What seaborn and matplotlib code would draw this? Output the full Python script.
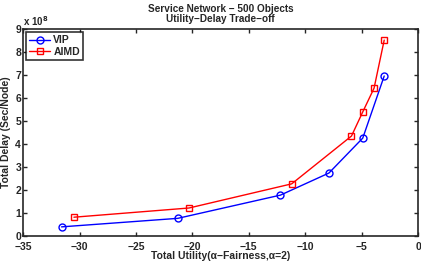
import numpy as np
import pandas as pd
import matplotlib
matplotlib.use("Agg")
import matplotlib.pyplot as plt
from matplotlib.ticker import FuncFormatter
import seaborn as sns

# values
vip_utility = [-31.6, -21.3, -12.2, -7.9, -4.9, -3.0]
vip_delay = [0.40e8, 0.77e8, 1.78e8, 2.74e8, 4.26e8, 6.96e8]
aimd_utility = [-30.5, -20.3, -11.2, -5.9, -4.9, -3.9, -3.0]
aimd_delay = [0.82e8, 1.22e8, 2.27e8, 4.35e8, 5.40e8, 6.43e8, 8.52e8]

df = pd.concat([
    pd.DataFrame({"utility": vip_utility, "delay": vip_delay, "scheme": "VIP"}),
    pd.DataFrame({"utility": aimd_utility, "delay": aimd_delay, "scheme": "AIMD"}),
])

sns.set_style("ticks")
plt.rcParams["font.family"] = ["Liberation Sans", "DejaVu Sans"]
plt.rcParams["font.weight"] = "bold"

fig = plt.figure(figsize=(4.21, 2.62), dpi=100)
ax = fig.add_axes([0.055, 0.099, 0.938, 0.79])

sns.lineplot(data=df, x="utility", y="delay", hue="scheme", style="scheme",
             palette={"VIP": "#0000ff", "AIMD": "#ff0000"},
             markers={"VIP": "o", "AIMD": "s"}, dashes=False, sort=False,
             markersize=5, markerfacecolor="none", markeredgewidth=1.0,
             linewidth=1.0, ax=ax)
for line in ax.lines:
    line.set_markeredgecolor(line.get_color())
    line.set_markerfacecolor("none")

ax.set_xlim(-35, 0)
ax.set_ylim(0, 9e8)
ax.set_xticks(np.arange(-35, 1, 5))
ax.set_yticks(np.arange(0, 9.1e8, 1e8))
ax.yaxis.set_major_formatter(FuncFormatter(lambda v, p: f"{v / 1e8:g}"))
ax.xaxis.set_major_formatter(FuncFormatter(lambda v, p: f"{v:g}".replace("-", "\u2212")))
ax.tick_params(direction="in", length=3, width=1, labelsize=7.5, pad=1.5,
               top=True, right=True)
ax.tick_params(axis="x", pad=4.2)
for s in ax.spines.values():
    s.set_linewidth(1.2)
    s.set_visible(True)

ax.set_xlabel("Total Utility(\u03b1\u2212Fairness,\u03b1=2)", fontsize=7.5,
              fontweight="bold", labelpad=-0.5)
ax.set_ylabel("Total Delay (Sec/Node)", fontsize=7.5, fontweight="bold", labelpad=3)
ax.set_title("Service Network \u2212 500 Objects\nUtility\u2212Delay Trade\u2212off",
             fontsize=7.2, fontweight="bold", pad=5, linespacing=1.05)
ax.text(0.0, 1.005, "x 10$^{8}$", transform=ax.transAxes, fontsize=7,
        fontweight="bold", ha="left", va="bottom")

leg = ax.legend(loc="upper left", fontsize=7.5, frameon=True, fancybox=False,
                handlelength=2.0, borderpad=0.3, labelspacing=0.15,
                handletextpad=0.3, borderaxespad=0.3)
leg.get_frame().set_edgecolor("black")
leg.get_frame().set_linewidth(1.2)
for t in leg.get_texts():
    t.set_fontweight("bold")

fig.savefig("out.png", dpi=100)
